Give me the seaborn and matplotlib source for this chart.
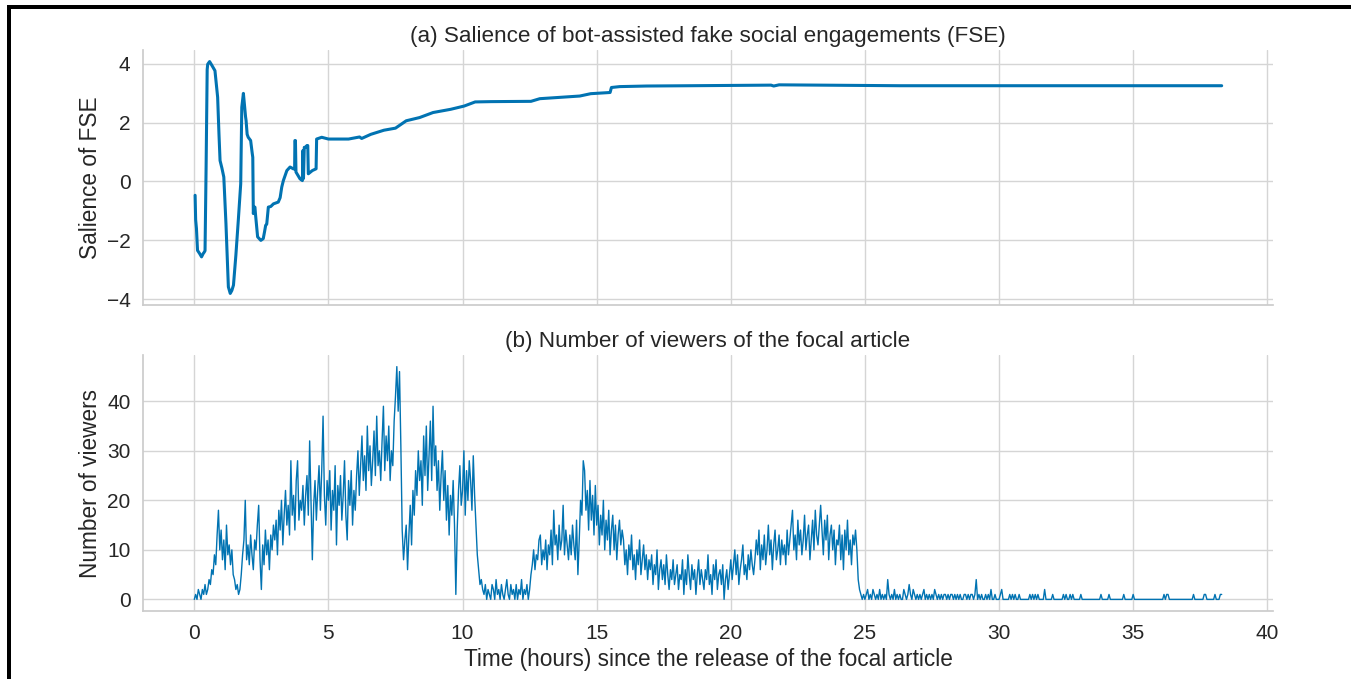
import numpy as np
import seaborn as sns
import matplotlib.pyplot as plt
from matplotlib.patches import Rectangle

# ---------------------------------------------------------------------------
# (a) Salience of bot-assisted fake social engagements over time
# ---------------------------------------------------------------------------
salience_hours = [
    0.03, 0.05, 0.08, 0.12, 0.20, 0.27, 0.33, 0.37, 0.40, 0.44, 0.48, 0.50,
    0.57, 0.65, 0.77, 0.87, 0.92, 0.96, 1.03, 1.10, 1.18, 1.27, 1.34, 1.40,
    1.46, 1.55, 1.64, 1.73, 1.77, 1.83, 1.88, 1.91, 1.93, 1.97, 2.01, 2.10,
    2.16, 2.18, 2.20, 2.24, 2.26, 2.28, 2.36, 2.48, 2.57, 2.62, 2.66, 2.70,
    2.76, 2.85, 2.95, 3.13, 3.20, 3.26, 3.32, 3.45, 3.57, 3.69, 3.74, 3.75,
    3.77, 3.79, 3.94, 4.03, 4.05, 4.07, 4.10, 4.15, 4.20, 4.23, 4.25, 4.40,
    4.54, 4.56, 4.75, 5.00, 5.75, 6.16, 6.24, 6.58, 7.07, 7.50, 7.90, 8.40,
    8.90, 9.56, 10.06, 10.47, 11.05, 12.55, 12.88, 14.37, 14.78, 15.50, 15.55,
    15.86, 16.86, 18.50, 21.50, 21.60, 21.80, 26.30, 38.30,
]
salience_values = [
    -0.47, -1.30, -1.60, -2.34, -2.45, -2.56, -2.45, -2.40, -2.35, 0.50, 3.80, 3.98,
    4.07, 3.95, 3.76, 2.86, 1.60, 0.71, 0.45, 0.15, -1.43, -3.58, -3.80, -3.70,
    -3.52, -2.50, -1.32, -0.08, 2.52, 2.99, 2.50, 2.20, 2.07, 1.60, 1.50, 1.39,
    0.95, 0.82, -1.09, -0.87, -0.87, -1.10, -1.88, -2.00, -1.94, -1.70, -1.49, -1.45,
    -0.87, -0.85, -0.76, -0.70, -0.55, -0.19, 0.03, 0.37, 0.49, 0.43, 0.42, 1.39,
    1.39, 0.32, 0.09, 0.03, 1.05, 0.10, 1.16, 1.16, 1.22, 1.22, 0.26, 0.37,
    0.43, 1.44, 1.50, 1.44, 1.44, 1.51, 1.46, 1.60, 1.74, 1.81, 2.06, 2.17,
    2.34, 2.45, 2.56, 2.70, 2.71, 2.72, 2.81, 2.90, 2.98, 3.02, 3.19,
    3.22, 3.24, 3.25, 3.27, 3.24, 3.28, 3.25, 3.25,
]

# ---------------------------------------------------------------------------
# (b) Number of viewers, sampled every 3 minutes (one list per hour)
# ---------------------------------------------------------------------------
SAMPLE_STEP_H = 0.05
viewers_h00 = [0, 1, 0, 2, 1, 0, 2, 1, 3, 1, 2, 4, 3, 6, 5, 9, 7, 13, 18, 10]
viewers_h01 = [14, 8, 12, 6, 15, 9, 11, 7, 10, 5, 4, 2, 3, 1, 2, 5, 9, 12, 20, 8]
viewers_h02 = [11, 7, 13, 9, 6, 12, 10, 15, 19, 8, 2, 11, 7, 14, 9, 12, 6, 13, 10, 15]
viewers_h03 = [12, 16, 9, 18, 14, 20, 11, 17, 22, 15, 19, 13, 28, 17, 21, 14, 24, 28, 16, 20]
viewers_h04 = [18, 23, 15, 21, 25, 17, 32, 20, 8, 19, 24, 16, 22, 27, 18, 26, 37, 21, 15, 24]
viewers_h05 = [20, 26, 14, 22, 18, 27, 11, 23, 19, 25, 16, 21, 28, 17, 12, 24, 19, 26, 15, 22]
viewers_h06 = [18, 25, 30, 21, 27, 33, 24, 29, 22, 35, 26, 31, 23, 28, 34, 25, 37, 27, 30, 24]
viewers_h07 = [32, 39, 26, 33, 28, 35, 24, 30, 27, 36, 41, 47, 38, 46, 31, 14, 8, 12, 15, 6]
viewers_h08 = [13, 19, 11, 22, 17, 26, 21, 30, 24, 28, 19, 33, 25, 35, 22, 29, 36, 24, 39, 27]
viewers_h09 = [31, 22, 28, 18, 25, 30, 20, 26, 16, 23, 13, 21, 17, 24, 15, 1, 14, 22, 27, 19]
viewers_h10 = [22, 30, 17, 26, 20, 28, 24, 18, 29, 21, 15, 9, 6, 3, 4, 2, 1, 3, 0, 2]
viewers_h11 = [1, 0, 3, 2, 0, 4, 1, 2, 0, 3, 1, 0, 2, 4, 1, 0, 3, 1, 2, 0]
viewers_h12 = [3, 0, 2, 1, 4, 0, 2, 1, 3, 0, 2, 5, 7, 10, 6, 9, 8, 12, 13, 7]
viewers_h13 = [10, 8, 12, 6, 11, 9, 14, 7, 18, 11, 13, 8, 15, 10, 12, 19, 9, 14, 11, 8]
viewers_h14 = [13, 9, 15, 11, 8, 16, 5, 12, 20, 17, 28, 26, 18, 22, 14, 24, 16, 21, 13, 23]
viewers_h15 = [15, 19, 11, 17, 13, 20, 10, 16, 12, 18, 9, 14, 17, 10, 15, 8, 13, 16, 11, 14]
viewers_h16 = [12, 7, 10, 5, 11, 8, 13, 6, 9, 4, 10, 7, 12, 5, 8, 11, 6, 9, 4, 8]
viewers_h17 = [6, 9, 3, 7, 5, 10, 2, 6, 8, 4, 7, 3, 9, 5, 2, 6, 4, 8, 3, 5]
viewers_h18 = [7, 2, 5, 4, 8, 1, 6, 3, 9, 5, 2, 7, 4, 6, 1, 5, 8, 3, 6, 4]
viewers_h19 = [2, 6, 4, 9, 3, 5, 1, 7, 4, 8, 2, 5, 6, 3, 7, 0, 4, 6, 2, 5]
viewers_h20 = [8, 4, 7, 10, 5, 9, 3, 6, 8, 11, 5, 7, 4, 9, 6, 10, 7, 5, 8, 12]
viewers_h21 = [9, 14, 6, 11, 8, 13, 7, 10, 15, 9, 12, 6, 11, 14, 8, 10, 13, 7, 12, 9]
viewers_h22 = [11, 7, 14, 9, 12, 15, 18, 10, 13, 8, 16, 11, 14, 9, 12, 17, 10, 13, 15, 8]
viewers_h23 = [12, 16, 10, 18, 13, 11, 15, 19, 14, 9, 16, 12, 17, 8, 13, 15, 10, 14, 7, 12]
viewers_h24 = [11, 15, 8, 13, 6, 14, 10, 16, 9, 12, 7, 13, 11, 14, 10, 4, 2, 1, 0, 1]
viewers_h25 = [0, 1, 2, 0, 1, 0, 2, 1, 0, 1, 0, 2, 0, 1, 0, 1, 0, 4, 1, 0]
viewers_h26 = [1, 0, 2, 0, 1, 0, 1, 0, 0, 2, 1, 0, 1, 3, 1, 0, 2, 1, 0, 1]
viewers_h27 = [0, 1, 0, 1, 2, 0, 1, 0, 1, 0, 1, 0, 2, 1, 0, 1, 0, 1, 0, 1]
viewers_h28 = [1, 0, 1, 0, 1, 1, 0, 1, 0, 1, 0, 1, 0, 0, 1, 1, 0, 1, 0, 1]
viewers_h29 = [1, 0, 1, 4, 0, 1, 0, 1, 0, 0, 1, 0, 1, 0, 2, 0, 0, 1, 0, 0]
viewers_h30 = [0, 1, 2, 0, 0, 0, 0, 0, 1, 0, 1, 0, 1, 0, 0, 1, 0, 0, 0, 0]
viewers_h31 = [0, 0, 0, 1, 0, 1, 0, 1, 0, 1, 0, 0, 0, 0, 2, 0, 0, 0, 0, 0]
viewers_h32 = [1, 0, 0, 0, 0, 0, 0, 0, 1, 0, 1, 0, 0, 1, 0, 1, 0, 0, 0, 0]
viewers_h33 = [0, 1, 0, 0, 0, 0, 0, 0, 0, 0, 0, 0, 0, 0, 0, 0, 1, 0, 0, 0]
viewers_h34 = [0, 0, 1, 0, 0, 0, 0, 0, 0, 0, 0, 0, 0, 1, 0, 0, 0, 0, 0, 0]
viewers_h35 = [1, 0, 0, 0, 0, 0, 0, 0, 0, 0, 0, 0, 0, 0, 0, 0, 0, 0, 0, 0]
viewers_h36 = [0, 0, 0, 1, 0, 1, 1, 0, 0, 0, 0, 0, 0, 0, 0, 0, 0, 0, 0, 0]
viewers_h37 = [0, 0, 0, 0, 0, 1, 0, 0, 0, 0, 0, 0, 0, 1, 1, 0, 0, 0, 0, 0]
viewers_h38 = [0, 1, 0, 0, 0, 1, 1]

viewer_segments = [
    viewers_h00, viewers_h01, viewers_h02, viewers_h03, viewers_h04,
    viewers_h05, viewers_h06, viewers_h07, viewers_h08, viewers_h09,
    viewers_h10, viewers_h11, viewers_h12, viewers_h13, viewers_h14,
    viewers_h15, viewers_h16, viewers_h17, viewers_h18, viewers_h19,
    viewers_h20, viewers_h21, viewers_h22, viewers_h23, viewers_h24,
    viewers_h25, viewers_h26, viewers_h27, viewers_h28, viewers_h29,
    viewers_h30, viewers_h31, viewers_h32, viewers_h33, viewers_h34,
    viewers_h35, viewers_h36, viewers_h37, viewers_h38,
]
viewers = np.concatenate([np.asarray(s, dtype=float) for s in viewer_segments])
viewer_hours = np.arange(len(viewers)) * SAMPLE_STEP_H

x_ticks = [0, 5, 10, 15, 20, 25, 30, 35, 40]
title_a = "(a) Salience of bot-assisted fake social engagements (FSE)"
title_b = "(b) Number of viewers of the focal article"
ylabel_a = "Salience of FSE"
ylabel_b = "Number of viewers"
xlabel_b = "Time (hours) since the release of the focal article"

# ---------------------------------------------------------------------------
# Styling
# ---------------------------------------------------------------------------
sns.set_theme(style="whitegrid", palette="colorblind")
plt.rcParams["font.family"] = ["Liberation Sans", "DejaVu Sans"]
plt.rcParams.update({
    "axes.titlesize": 16.2,
    "axes.labelsize": 16.3,
    "xtick.labelsize": 15,
    "ytick.labelsize": 15,
    "axes.edgecolor": "#cccccc",
    "grid.color": "#d5d5d5",
    "axes.linewidth": 1.25,
    "grid.linewidth": 1.0,
    "xtick.major.size": 0,
    "ytick.major.size": 0,
    "xtick.major.pad": 9,
    "ytick.major.pad": 9,
})
line_color = sns.color_palette("colorblind")[0]

fig = plt.figure(figsize=(13.51, 6.79), dpi=100)
ax_top = fig.add_axes([0.1058, 0.5508, 0.8365, 0.3756])
ax_bot = fig.add_axes([0.1058, 0.1001, 0.8365, 0.3771], sharex=ax_top)

sns.lineplot(x=salience_hours, y=salience_values, ax=ax_top, color=line_color,
             linewidth=2.2, estimator=None)
sns.lineplot(x=viewer_hours, y=viewers, ax=ax_bot, color=line_color,
             linewidth=1.0, estimator=None)

ax_top.set_title(title_a, pad=6)
ax_top.set_ylabel(ylabel_a, labelpad=3.5)
ax_top.set_xlabel("")
ax_top.tick_params(labelbottom=False)

ax_bot.set_title(title_b, pad=6)
ax_bot.set_ylabel(ylabel_b, labelpad=3.5)
ax_bot.set_xlabel(xlabel_b, labelpad=4)
ax_bot.set_xticks(x_ticks)

for ax in (ax_top, ax_bot):
    sns.despine(ax=ax)

fig.align_ylabels([ax_top, ax_bot])

# black frame along the left and top edges of the figure
W, H = 1351, 679
fig.add_artist(Rectangle((7 / W, 0), 4 / W, 1 - 5 / H, transform=fig.transFigure,
                         color="black", lw=0, zorder=10))
fig.add_artist(Rectangle((7 / W, 1 - 9 / H), 1 - 7 / W, 4 / H, transform=fig.transFigure,
                         color="black", lw=0, zorder=10))

fig.savefig("out.png", dpi=100)
